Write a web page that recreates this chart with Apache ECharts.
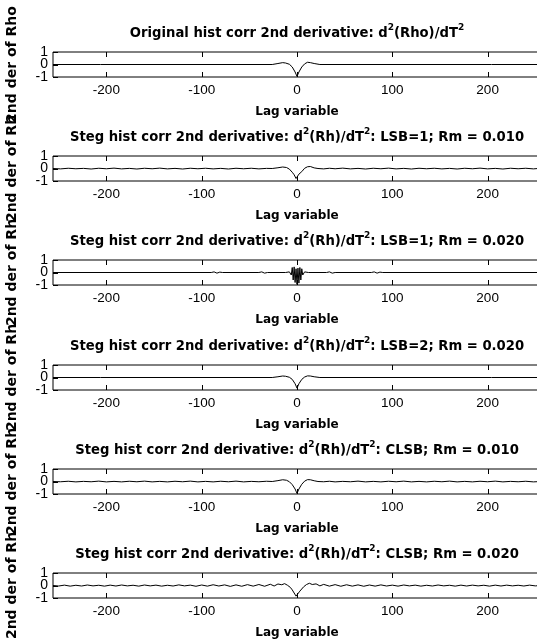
<!DOCTYPE html>
<html>
<head>
<meta charset="utf-8">
<script src="https://cdn.jsdelivr.net/npm/echarts@6/dist/echarts.min.js"></script>
<style>
    html, body { margin: 0; padding: 0; background: #fff; }
    #chart { width: 537px; height: 641px; }
</style>
</head>
<body>
<div id="chart"></div>
<script>
// tick labels
const lagTicks = [-200, -100, 0, 100, 200];
const yTicks = [-1, 0, 1];
const yEndTicks = [-1, 1];
const yMidTicks = [0];

// title pieces: text before first superscript 2, between, after
const titleParts = [
    ['Original hist corr 2nd derivative: d', '(Rho)/dT', ''],
    ['Steg hist corr 2nd derivative: d', '(Rh)/dT', ': LSB=1; Rm = 0.010'],
    ['Steg hist corr 2nd derivative: d', '(Rh)/dT', ': LSB=1; Rm = 0.020'],
    ['Steg hist corr 2nd derivative: d', '(Rh)/dT', ': LSB=2; Rm = 0.020'],
    ['Steg hist corr 2nd derivative: d', '(Rh)/dT', ': CLSB; Rm = 0.010'],
    ['Steg hist corr 2nd derivative: d', '(Rh)/dT', ': CLSB; Rm = 0.020']
];
const yNames = ['2nd der of Rho', '2nd der of Rh', '2nd der of Rh', '2nd der of Rh', '2nd der of Rh', '2nd der of Rh'];
const xName = 'Lag variable';

// [lag, 2nd derivative]
const original = [
    [-256, 0], [-206, 0], [-205, -0.07], [-204, 0], [-26, 0], [-20, 0.08], [-15, 0.15], [-12, 0.12],
    [-8, 0.02], [-5, -0.2], [-2, -0.6], [0, -0.95], [2, -0.6], [5, -0.2], [8, 0.05], [11, 0.18],
    [14, 0.15], [18, 0.08], [24, 0], [204, 0], [205, -0.07], [206, 0], [256, 0]
];
const lsb1rm010 = [
    [-256, 0], [-248, -0.03], [-240, 0.02], [-232, -0.02], [-224, 0.01], [-216, -0.04], [-208, 0.02],
    [-200, -0.02], [-192, 0.03], [-184, -0.03], [-176, 0.01], [-168, -0.04], [-160, 0.02], [-152, -0.02],
    [-144, 0.03], [-136, -0.03], [-128, 0.01], [-120, -0.04], [-112, 0.02], [-104, -0.02], [-96, 0.02],
    [-88, -0.03], [-80, 0.01], [-72, -0.04], [-64, 0.02], [-56, -0.02], [-48, 0.02], [-40, -0.03],
    [-32, 0.01], [-26, 0], [-20, 0.06], [-15, 0.12], [-11, 0.08], [-8, -0.05], [-5, -0.3], [-3, -0.5],
    [-2, -0.35], [-1, -0.8], [0, -0.95], [1, -0.7], [2, -0.45], [3, -0.6], [5, -0.25], [8, 0.02],
    [11, 0.14], [14, 0.16], [18, 0.05], [22, 0], [28, -0.03], [34, 0.02], [40, -0.02], [48, 0.03],
    [56, -0.03], [64, 0.01], [72, -0.04], [80, 0.02], [88, -0.02], [96, 0.03], [104, -0.03], [112, 0.01],
    [120, -0.04], [128, 0.02], [136, -0.02], [144, 0.02], [152, -0.03], [160, 0.01], [168, -0.04],
    [176, 0.02], [184, -0.02], [192, 0.03], [200, -0.03], [208, 0.01], [216, -0.04], [224, 0.02],
    [232, -0.02], [240, 0.02], [248, -0.03], [256, 0.02]
];
const lsb1rm020 = [
    [-256, 0], [-90, 0], [-87, 0.05], [-84, -0.05], [-81, 0.03], [-78, 0], [-40, 0], [-37, 0.05],
    [-34, -0.05], [-31, 0], [-12, 0], [-8, 0.05], [-6, -0.2], [-5, 0.4], [-4, -0.6], [-3, 0.45],
    [-2, -0.8], [-1, 0.3], [0, -0.95], [1, 0.35], [2, -0.85], [3, 0.4], [4, -0.6], [5, 0.3], [6, -0.2],
    [8, 0.05], [12, 0], [31, 0], [34, 0.05], [37, -0.05], [40, 0], [78, 0], [81, 0.05], [84, -0.05],
    [87, 0.03], [90, 0], [256, 0]
];
const lsb2rm020 = [
    [-256, 0], [-206, 0], [-205, -0.12], [-204, 0], [-26, 0], [-20, 0.06], [-15, 0.12], [-12, 0.1],
    [-8, 0.02], [-5, -0.15], [-2, -0.5], [0, -0.85], [2, -0.5], [5, -0.15], [8, 0.04], [11, 0.13],
    [14, 0.12], [18, 0.06], [24, 0], [204, 0], [205, -0.1], [206, 0], [256, 0]
];
const clsbrm010 = [
    [-256, 0], [-248, -0.02], [-240, 0.02], [-232, -0.03], [-224, 0.01], [-216, -0.02], [-208, 0.03],
    [-200, -0.03], [-192, 0.01], [-184, -0.03], [-176, 0.02], [-168, -0.02], [-160, 0.03], [-152, -0.03],
    [-144, 0.01], [-136, -0.03], [-128, 0.02], [-120, -0.02], [-112, 0.03], [-104, -0.03], [-96, 0.01],
    [-88, -0.03], [-80, 0.02], [-72, -0.02], [-64, 0.03], [-56, -0.03], [-48, 0.01], [-40, -0.02],
    [-32, 0.02], [-26, 0], [-20, 0.07], [-15, 0.14], [-11, 0.1], [-8, -0.02], [-5, -0.25], [-2, -0.6],
    [0, -0.95], [2, -0.6], [5, -0.22], [8, 0.03], [11, 0.15], [14, 0.14], [18, 0.06], [22, 0],
    [28, -0.02], [34, 0.02], [40, -0.03], [48, 0.01], [56, -0.02], [64, 0.03], [72, -0.03], [80, 0.01],
    [88, -0.03], [96, 0.02], [104, -0.02], [112, 0.03], [120, -0.03], [128, 0.01], [136, -0.03],
    [144, 0.02], [152, -0.02], [160, 0.03], [168, -0.03], [176, 0.01], [184, -0.03], [192, 0.02],
    [200, -0.02], [208, 0.03], [216, -0.03], [224, 0.01], [232, -0.02], [240, 0.02], [248, -0.03], [256, 0]
];
const clsbrm020 = [
    [-256, 0], [-250, -0.04], [-244, 0.03], [-238, -0.05], [-232, 0.02], [-226, -0.04], [-220, 0.04],
    [-214, -0.03], [-208, 0.02], [-202, -0.05], [-196, 0.03], [-190, -0.04], [-184, 0.04], [-178, -0.03],
    [-172, 0.02], [-166, -0.05], [-160, 0.04], [-154, -0.03], [-148, 0.03], [-142, -0.05], [-136, 0.02],
    [-130, -0.04], [-124, 0.05], [-118, -0.03], [-112, 0.03], [-106, -0.06], [-100, 0.04], [-94, -0.05],
    [-88, 0.06], [-82, -0.04], [-76, 0.05], [-70, -0.07], [-64, 0.05], [-58, -0.06], [-52, 0.07],
    [-46, -0.05], [-40, 0.08], [-34, -0.06], [-28, 0.1], [-24, -0.04], [-20, 0.12], [-16, 0.06],
    [-13, 0.15], [-10, 0.02], [-7, -0.15], [-5, -0.35], [-3, -0.5], [-1, -0.85], [0, -0.95], [1, -0.75],
    [3, -0.45], [5, -0.3], [7, -0.1], [10, 0.08], [13, 0.18], [16, 0.08], [20, 0.13], [24, -0.03],
    [28, 0.09], [34, -0.05], [40, 0.07], [46, -0.06], [52, 0.06], [58, -0.05], [64, 0.05], [70, -0.06],
    [76, 0.04], [82, -0.05], [88, 0.05], [94, -0.04], [100, 0.03], [106, -0.05], [112, 0.04], [118, -0.03],
    [124, 0.03], [130, -0.05], [136, 0.02], [142, -0.04], [148, 0.04], [154, -0.03], [160, 0.02],
    [166, -0.05], [172, 0.03], [178, -0.04], [184, 0.03], [190, -0.03], [196, 0.02], [202, -0.05],
    [208, 0.03], [214, -0.04], [220, 0.03], [226, -0.03], [232, 0.02], [238, -0.04], [244, 0.03],
    [250, -0.03], [256, 0]
];
const seriesData = [original, lsb1rm010, lsb1rm020, lsb2rm020, clsbrm010, clsbrm020];

const FONT = "'Liberation Sans', Arial, Helvetica, sans-serif";
const BOLD_FONT = "'DejaVu Sans', Verdana, sans-serif";
const chart = echarts.init(document.getElementById('chart'), null, { renderer: 'canvas' });

const gridLeft = 53;
const gridTops = [52, 156, 260, 365, 469, 573];
const gridHeight = 25;
const TICK = 5;

const grids = [], xAxes = [], yAxes = [], series = [], graphics = [];

const yLabelStyle = { showMinLabel: true, showMaxLabel: true, color: '#000', fontSize: 14, fontFamily: FONT, margin: 5 };

//刻度线: 用 custom 系列按坐标画, 上下两边都朝里
const tickLine = (x1, y1, x2, y2) => ({
    type: 'line', shape: { x1, y1, x2, y2 }, style: { stroke: '#000', lineWidth: 1 }, z2: 10
});
const renderXTick = (params, api) => {
    const top = api.coord([api.value(0), 1]);
    const bot = api.coord([api.value(0), -1]);
    const x = Math.round(top[0]) + 0.5;
    return {
        type: 'group',
        children: [tickLine(x, top[1], x, top[1] + TICK), tickLine(x, bot[1], x, bot[1] - TICK)]
    };
};
const renderYTick = (params, api) => {
    const p = api.coord([-256, api.value(1)]);
    const y = Math.round(p[1]) + 0.5;
    return tickLine(p[0], y, p[0] + TICK, y);
};

seriesData.forEach((data, i) => {
    grids.push({
        left: gridLeft, right: -4, top: gridTops[i], height: gridHeight,
        outerBoundsMode: 'none', containLabel: false,
        show: true, borderColor: '#000', borderWidth: 1, backgroundColor: 'transparent'
    });

    xAxes.push({
        type: 'value', gridIndex: i, min: -256, max: 256, position: 'bottom',
        axisLine: { show: false, onZero: false },
        axisTick: { show: false },
        axisLabel: { customValues: lagTicks, color: '#000', fontSize: 13.5, fontFamily: FONT, margin: 6 },
        splitLine: { show: false },
        name: xName, nameLocation: 'middle', nameGap: 29,
        nameTextStyle: { color: '#000', fontSize: 12, fontWeight: 'bold', fontFamily: BOLD_FONT }
    });
    //两个y轴叠在一起, 免得 1/0/-1 互相遮挡被隐藏
    yAxes.push({
        type: 'value', gridIndex: i, min: -1, max: 1, position: 'left',
        axisLine: { show: false, onZero: false },
        axisTick: { show: false },
        axisLabel: Object.assign({ customValues: yEndTicks }, yLabelStyle),
        splitLine: { show: false },
        name: yNames[i], nameLocation: 'middle', nameGap: 34, nameRotate: 90,
        nameTextStyle: { color: '#000', fontSize: 14, fontWeight: 'bold', fontFamily: BOLD_FONT }
    });
    yAxes.push({
        type: 'value', gridIndex: i, min: -1, max: 1, position: 'left', offset: 0,
        axisLine: { show: false, onZero: false },
        axisTick: { show: false },
        axisLabel: Object.assign({ customValues: yMidTicks }, yLabelStyle),
        splitLine: { show: false }
    });
    series.push({
        type: 'line', xAxisIndex: i, yAxisIndex: i * 2, data: data,
        showSymbol: false, silent: true,
        lineStyle: { color: '#000', width: 1 }
    });
    series.push({
        type: 'custom', xAxisIndex: i, yAxisIndex: i * 2, silent: true, clip: false, z: 5,
        data: lagTicks.map(v => [v, 0]), renderItem: renderXTick
    });
    series.push({
        type: 'custom', xAxisIndex: i, yAxisIndex: i * 2, silent: true, clip: false, z: 5,
        data: yTicks.map(v => [-256, v]), renderItem: renderYTick
    });

    const [a, b, c] = titleParts[i];
    graphics.push({
        type: 'text', x: 297, y: gridTops[i] - 20,
        style: {
            text: `{t|${a}}{s|2}{t|${b}}{s|2}` + (c ? `{t|${c}}` : ''),
            align: 'center', verticalAlign: 'middle',
            rich: {
                t: { fontSize: 13.2, fontWeight: 'bold', fontFamily: BOLD_FONT, fill: '#000', lineHeight: 17, verticalAlign: 'bottom' },
                s: { fontSize: 9, fontWeight: 'bold', fontFamily: BOLD_FONT, fill: '#000', lineHeight: 17, verticalAlign: 'top' }
            }
        }
    });
});

chart.setOption({
    animation: false,
    backgroundColor: '#fff',
    grid: grids,
    xAxis: xAxes,
    yAxis: yAxes,
    series: series,
    graphic: graphics
});
</script>
</body>
</html>
